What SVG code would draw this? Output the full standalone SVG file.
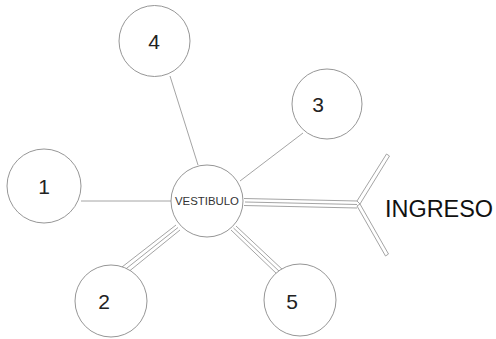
<svg xmlns="http://www.w3.org/2000/svg" width="496" height="339" viewBox="0 0 496 339">
<style>
.n{fill:#fff;stroke:#8a8a8a;stroke-width:0.9}
.l{fill:none;stroke:#9a9a9a;stroke-width:0.9}
.d{font-family:"Liberation Sans",Arial,sans-serif;font-size:21px;fill:#222;text-anchor:middle}
.v{font-family:"Liberation Sans",Arial,sans-serif;font-size:11px;fill:#333;text-anchor:middle}
</style>
<rect width="496" height="339" fill="#fff"/>
<g id="connectors">
<line class="l" x1="81" y1="201" x2="171" y2="201"/>
<line class="l" x1="170" y1="76" x2="198" y2="165"/>
<line class="l" x1="303" y1="133" x2="240" y2="181"/>
<g id="to-ingreso">
<line class="l" x1="244" y1="198.5" x2="357" y2="201"/>
<line class="l" x1="245" y1="202" x2="357" y2="204.5"/>
<line class="l" x1="244" y1="205.5" x2="357" y2="208"/>
</g>
<g id="to-2">
<line class="l" x1="176" y1="225" x2="122" y2="267"/>
<line class="l" x1="178" y1="227.5" x2="124.5" y2="270"/>
<line class="l" x1="180" y1="230" x2="127" y2="273"/>
</g>
<g id="to-5">
<line class="l" x1="231" y1="230" x2="278" y2="275"/>
<line class="l" x1="233.5" y1="228" x2="281" y2="273"/>
<line class="l" x1="236" y1="226" x2="284" y2="271"/>
</g>
<g id="ingreso-y">
<polygon class="l" points="357,201 386.5,154 389.5,156 360,204"/>
<polygon class="l" points="357,206 360,204 388.5,254 385.5,256"/>
</g>
</g>
<g id="node-vestibulo">
<circle class="n" cx="207" cy="201" r="36"/>
<text class="v" x="207" y="205" textLength="64" lengthAdjust="spacingAndGlyphs">VESTIBULO</text>
</g>
<g id="node-1">
<circle class="n" cx="44" cy="186" r="37"/>
<text class="d" x="44" y="194">1</text>
</g>
<g id="node-2">
<circle class="n" cx="111" cy="301" r="36"/>
<text class="d" x="104" y="309">2</text>
</g>
<g id="node-3">
<circle class="n" cx="327" cy="104" r="35"/>
<text class="d" x="318" y="112">3</text>
</g>
<g id="node-4">
<circle class="n" cx="154.5" cy="41" r="35.5"/>
<text class="d" x="154" y="49">4</text>
</g>
<g id="node-5">
<circle class="n" cx="300" cy="300" r="36"/>
<text class="d" x="292" y="309">5</text>
</g>
<g id="label-ingreso">
<text x="385" y="217" font-family="'Liberation Sans',Arial,sans-serif" font-size="23" fill="#111" textLength="108" lengthAdjust="spacingAndGlyphs">INGRESO</text>
</g>
</svg>
